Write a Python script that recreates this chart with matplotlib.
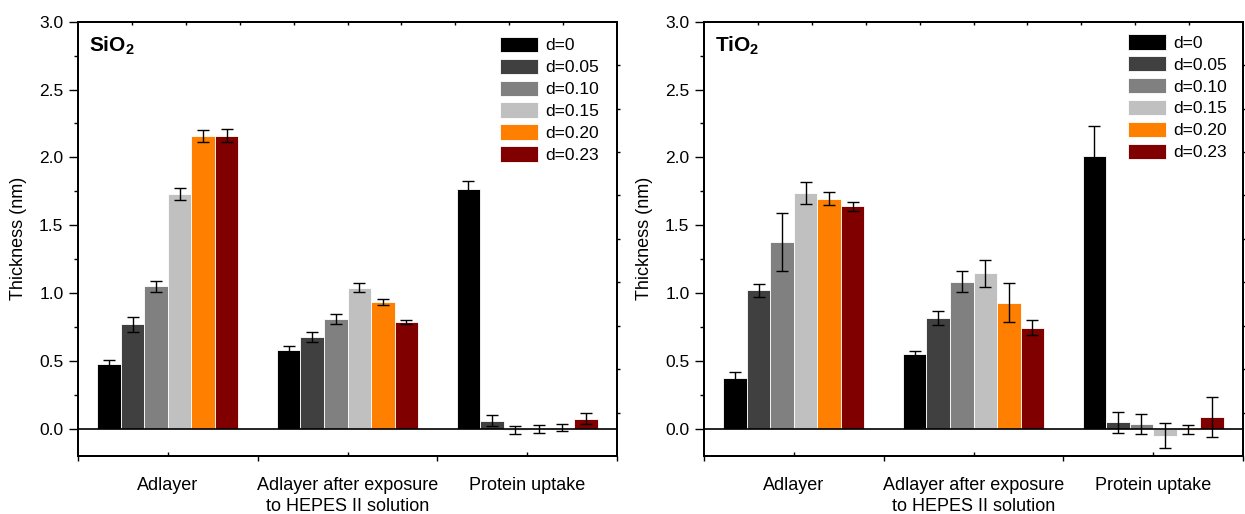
import matplotlib
matplotlib.use("Agg")
import matplotlib.pyplot as plt
import numpy as np

plt.rcParams["font.family"] = ["Liberation Sans", "DejaVu Sans"]
plt.rcParams["mathtext.fontset"] = "custom"
plt.rcParams["mathtext.rm"] = "Liberation Sans"
plt.rcParams["mathtext.bf"] = "Liberation Sans:bold"

# data
categories = ["Adlayer", "Adlayer after exposure\nto HEPES II solution", "Protein uptake"]
series = ["d=0", "d=0.05", "d=0.10", "d=0.15", "d=0.20", "d=0.23"]
colors = ["#000000", "#404040", "#808080", "#c0c0c0", "#ff8000", "#800000"]

# SiO2, rows = series, cols = categories
sio2_vals = [
    [0.48, 0.58, 1.77],
    [0.77, 0.68, 0.06],
    [1.05, 0.81, -0.01],
    [1.73, 1.04, 0.00],
    [2.155, 0.935, 0.01],
    [2.16, 0.785, 0.075],
]
sio2_err = [
    [0.03, 0.032, 0.054],
    [0.054, 0.037, 0.042],
    [0.04, 0.034, 0.028],
    [0.042, 0.032, 0.032],
    [0.044, 0.025, 0.025],
    [0.05, 0.015, 0.04],
]

# TiO2
tio2_vals = [
    [0.375, 0.548, 2.01],
    [1.02, 0.818, 0.047],
    [1.38, 1.085, 0.034],
    [1.737, 1.145, -0.05],
    [1.695, 0.93, -0.005],
    [1.64, 0.745, 0.088],
]
tio2_err = [
    [0.047, 0.027, 0.22],
    [0.047, 0.049, 0.076],
    [0.214, 0.079, 0.074],
    [0.079, 0.10, 0.093],
    [0.049, 0.145, 0.032],
    [0.034, 0.054, 0.15],
]

fig = plt.figure(figsize=(12.45, 5.14), dpi=100)
ax1 = fig.add_axes([0.0627, 0.1128, 0.4329, 0.845])
ax2 = fig.add_axes([0.5655, 0.1128, 0.4329, 0.845])

bar_w = 0.131
x = np.arange(len(categories))


def draw_panel(ax, vals, errs, title, leg_x, leg_y):
    for i in range(len(series)):
        pos = x + (i - 2.5) * bar_w
        ax.bar(pos, vals[i], bar_w, color=colors[i], edgecolor="white",
               linewidth=0.6, label=series[i], zorder=2)
        ax.errorbar(pos, vals[i], yerr=errs[i], fmt="none", ecolor="black",
                    elinewidth=1, capsize=4, capthick=1, zorder=3)
    ax.axhline(0, color="black", lw=1.2, zorder=4)
    ax.set_xlim(-0.5, 2.5)
    ax.set_ylim(-0.2, 3.0)
    ax.set_yticks(np.arange(0, 3.01, 0.5))
    ax.set_yticks(np.arange(0, 3.01, 0.25), minor=True)
    ax.set_yticklabels(["%.1f" % v for v in np.arange(0, 3.01, 0.5)])
    ax.set_xticks([-0.5, 0.5, 1.5, 2.5])
    ax.set_xticklabels([])
    ax.set_xticks(x, minor=True)
    ax.set_xticklabels(categories, minor=True, fontsize=13, va="top",
                       linespacing=1.3)
    ax.tick_params(axis="y", which="major", direction="out", length=6.5,
                   width=1, labelsize=12.5, pad=4)
    ax.tick_params(axis="y", which="minor", direction="out", length=2.7, width=1)
    ax.tick_params(axis="x", which="major", direction="out", length=3.4, width=1)
    ax.tick_params(axis="x", which="minor", direction="in", length=3, width=1, pad=15)
    ax.set_ylabel("Thickness (nm)", fontsize=13, labelpad=9)
    for s in ax.spines.values():
        s.set_linewidth(1.2)

    # mirrored right and top axes with their own division
    axr = ax.twinx()
    axr.set_ylim(0, 10)
    axr.set_yticks(range(1, 10))
    axr.set_yticklabels([])
    axr.tick_params(axis="y", direction="out", length=2, width=1)
    axt = ax.twiny()
    axt.set_xlim(0, 10)
    axt.set_xticks(range(1, 10))
    axt.set_xticklabels([])
    axt.tick_params(axis="x", direction="in", length=2, width=1)
    for s in list(axr.spines.values()) + list(axt.spines.values()):
        s.set_linewidth(1.2)

    ax.text(0.02, 0.93, r"$\mathbf{%s_2}$" % title, transform=ax.transAxes,
            fontsize=15, ha="left", va="baseline")
    ax.legend(loc="upper left", bbox_to_anchor=(leg_x, leg_y), frameon=False,
              fontsize=12.5, handlelength=2.2, handleheight=1.0,
              handletextpad=0.4, labelspacing=0.3, borderpad=0,
              borderaxespad=0)


draw_panel(ax1, sio2_vals, sio2_err, "SiO", 0.783, 0.9654)
draw_panel(ax2, tio2_vals, tio2_err, "TiO", 0.787, 0.9717)

fig.savefig("out.png", dpi=100)
